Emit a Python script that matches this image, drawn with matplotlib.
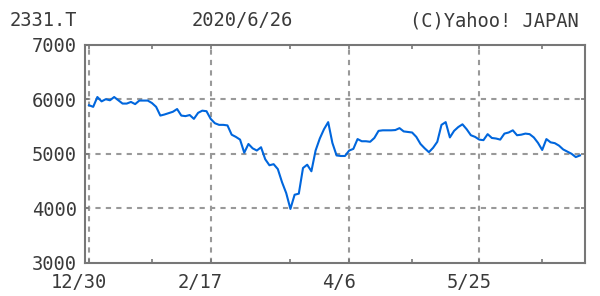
import numpy as np
import matplotlib
matplotlib.use("Agg")
import matplotlib.pyplot as plt
import matplotlib.transforms as mtrans

# 2331.T daily close, 2019/12/30 - 2020/6/26
prices = [
    5890, 5860, 6040, 5960, 6000, 5980, 6040, 5980, 5920, 5920,
    5950, 5910, 5975, 5975, 5975, 5930, 5860, 5700, 5720, 5745,
    5770, 5820, 5700, 5690, 5710, 5640, 5750, 5790, 5780, 5640,
    5560, 5530, 5530, 5520, 5350, 5310, 5260, 5020, 5180, 5100,
    5060, 5120, 4900, 4790, 4810, 4720, 4480, 4280, 3990, 4250,
    4270, 4740, 4800, 4680, 5060, 5280, 5450, 5580, 5200, 4970,
    4960, 4960, 5060, 5090, 5270, 5230, 5230, 5220, 5290, 5420,
    5430, 5430, 5430, 5435, 5470, 5410, 5400, 5390, 5310, 5180,
    5100, 5030, 5110, 5220, 5530, 5580, 5300, 5420, 5490, 5540,
    5450, 5340, 5310, 5260, 5250, 5360, 5290, 5280, 5260, 5370,
    5390, 5430, 5340, 5350, 5370, 5360, 5300, 5200, 5070, 5270,
    5210, 5195, 5150, 5080, 5040, 5000, 4940, 4970,
]
# trading-day index of labelled dates
tick_idx = [0, 29, 62, 93]
tick_labels = ["12/30", "2/17", "4/6", "5/25"]
minor_idx = [15, 48, 77, 108]
y_ticks = [3000, 4000, 5000, 6000, 7000]

code = "2331.T"
date = "2020/6/26"
credit = "(C)Yahoo! JAPAN"

plt.rcParams['font.family'] = ['DejaVu Sans Mono']
TXT = "#3a3a3a"
GRID = "#999999"

fig = plt.figure(figsize=(6, 2.96), dpi=100)
ax = fig.add_axes([85 / 600, 33 / 296, 500 / 600, 218.4 / 296])

x = np.arange(len(prices))
ax.plot(x, prices, color="#0066dd", lw=1.5, solid_joinstyle="round")

ax.set_xlim(-0.95, 118.2)
ax.set_ylim(3000, 7000)

ax.set_xticks(tick_idx)
ax.set_xticklabels(tick_labels)
ax.set_xticks(minor_idx, minor=True)
ax.set_yticks(y_ticks)
ax.set_yticklabels([str(v) for v in y_ticks])

for t in [4000, 5000, 6000]:
    ax.axhline(t, color=GRID, lw=1.5, ls=(0, (2.5, 2.5)), zorder=0)
for t in tick_idx:
    ax.axvline(t, color=GRID, lw=1.5, ls=(0, (2.5, 2.5)), zorder=0)

ax.tick_params(which="both", direction="in", length=3, width=1.2, color="#777777",
               top=True, right=True, labelsize=13.5, labelcolor=TXT)
ax.tick_params(axis="x", pad=7)
ax.tick_params(axis="y", pad=6)

# x labels sit a bit left of their tick
shift = mtrans.ScaledTranslation(-10.5 / 100, 0, fig.dpi_scale_trans)
for lab in ax.get_xticklabels():
    lab.set_transform(lab.get_transform() + shift)

for s in ax.spines.values():
    s.set_color("#777777")
    s.set_linewidth(1.5)

fig.text(10 / 600, 1 - 21 / 296, code, ha="left", va="center", fontsize=13.5, color=TXT)
fig.text(242 / 600, 1 - 21 / 296, date, ha="center", va="center", fontsize=13.5, color=TXT)
fig.text(579 / 600, 1 - 21 / 296, credit, ha="right", va="center", fontsize=13.5, color=TXT)

fig.savefig("out.png", dpi=100, facecolor="white")
